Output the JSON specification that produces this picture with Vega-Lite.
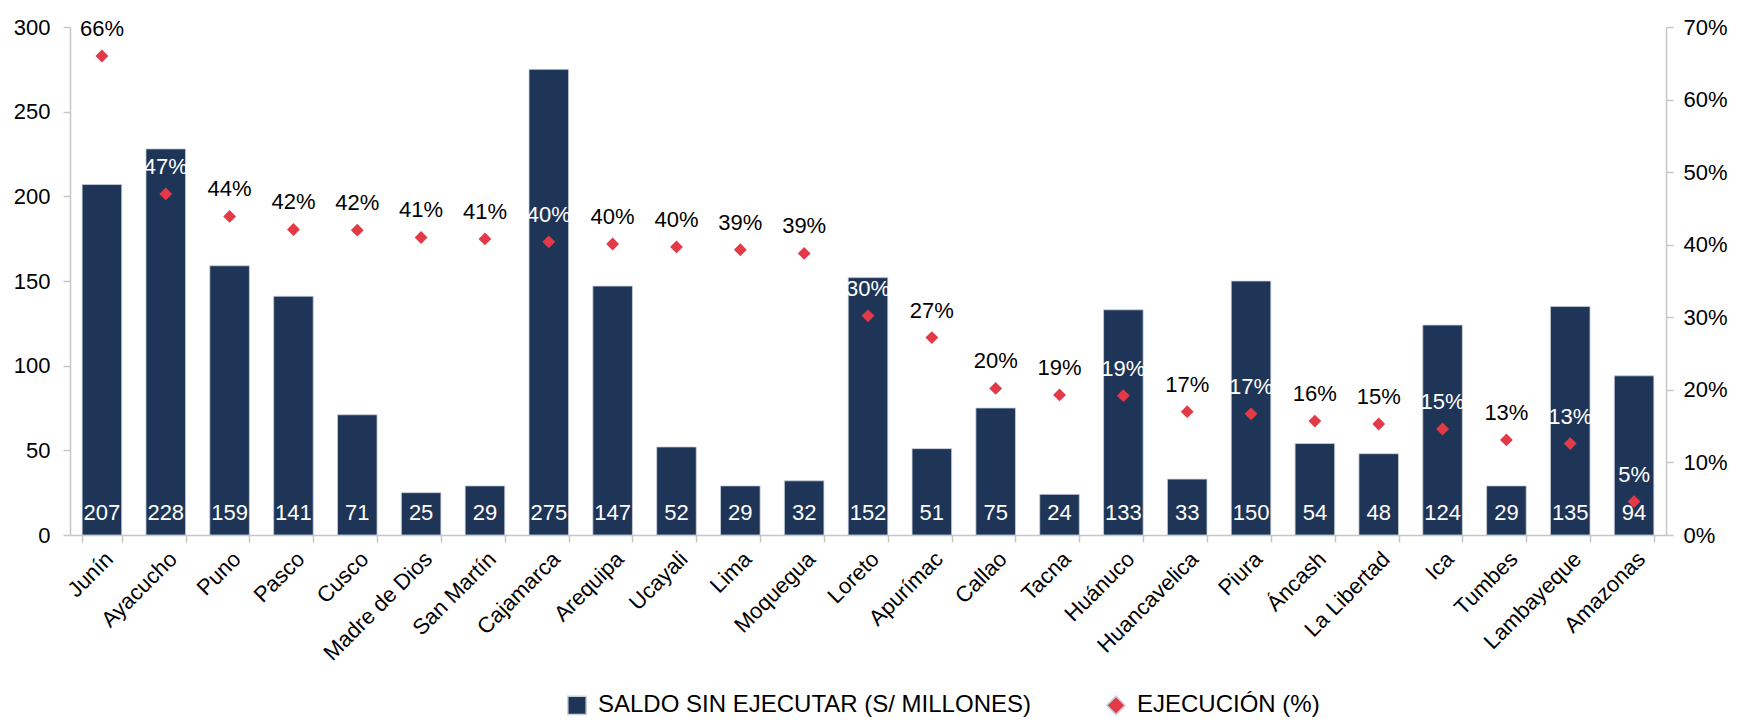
{
  "$schema": "https://vega.github.io/schema/vega-lite/v6.json",
  "width": 1596,
  "height": 508,
  "autosize": {"type": "none"},
  "padding": {"left": 70, "top": 27, "right": 79, "bottom": 189},
  "background": "white",
  "config": {
    "view": {"stroke": null},
    "font": "Liberation Sans",
    "axis": {
      "labelFont": "Liberation Sans",
      "labelFontSize": 22,
      "labelColor": "#000000",
      "domainColor": "#c6c6c6",
      "tickColor": "#c6c6c6",
      "domainWidth": 1.5,
      "tickWidth": 1.5,
      "tickSize": 7,
      "grid": false,
      "title": null
    }
  },
  "data": {
    "values": [
      {"region": "Junín", "saldo": 207, "pct": 0.660},
      {"region": "Ayacucho", "saldo": 228, "pct": 0.470},
      {"region": "Puno", "saldo": 159, "pct": 0.439},
      {"region": "Pasco", "saldo": 141, "pct": 0.421},
      {"region": "Cusco", "saldo": 71, "pct": 0.420},
      {"region": "Madre de Dios", "saldo": 25, "pct": 0.410},
      {"region": "San Martín", "saldo": 29, "pct": 0.408},
      {"region": "Cajamarca", "saldo": 275, "pct": 0.404},
      {"region": "Arequipa", "saldo": 147, "pct": 0.401},
      {"region": "Ucayali", "saldo": 52, "pct": 0.397},
      {"region": "Lima", "saldo": 29, "pct": 0.393},
      {"region": "Moquegua", "saldo": 32, "pct": 0.388},
      {"region": "Loreto", "saldo": 152, "pct": 0.302},
      {"region": "Apurímac", "saldo": 51, "pct": 0.272},
      {"region": "Callao", "saldo": 75, "pct": 0.202},
      {"region": "Tacna", "saldo": 24, "pct": 0.193},
      {"region": "Huánuco", "saldo": 133, "pct": 0.192},
      {"region": "Huancavelica", "saldo": 33, "pct": 0.170},
      {"region": "Piura", "saldo": 150, "pct": 0.167},
      {"region": "Áncash", "saldo": 54, "pct": 0.157},
      {"region": "La Libertad", "saldo": 48, "pct": 0.153},
      {"region": "Ica", "saldo": 124, "pct": 0.146},
      {"region": "Tumbes", "saldo": 29, "pct": 0.131},
      {"region": "Lambayeque", "saldo": 135, "pct": 0.126},
      {"region": "Amazonas", "saldo": 94, "pct": 0.046}
    ]
  },
  "encoding": {
    "x": {
      "field": "region",
      "type": "nominal",
      "sort": null,
      "scale": {"paddingInner": 0.38, "paddingOuter": 0.19},
      "axis": {
        "labelAngle": -45,
        "labelAlign": "right",
        "labelBaseline": "top",
        "labelPadding": 6,
        "tickBand": "extent",
        "labelFontSize": 22
      }
    }
  },
  "layer": [
    {
      "layer": [
        {
          "mark": {"type": "bar", "stroke": "#c9d1dc", "strokeWidth": 0.8},
          "encoding": {
            "y": {
              "field": "saldo",
              "type": "quantitative",
              "scale": {"domain": [0, 300]},
              "axis": {"values": [0, 50, 100, 150, 200, 250, 300], "labelPadding": 13}
            },
            "color": {
              "datum": "SALDO SIN EJECUTAR (S/ MILLONES)",
              "type": "nominal",
              "scale": {
                "domain": ["SALDO SIN EJECUTAR (S/ MILLONES)", "EJECUCIÓN (%)"],
                "range": ["#1f3557", "#e43a47"]
              },
              "legend": {
                "orient": "none",
                "legendX": 495,
                "legendY": 666,
                "padding": 0,
                "direction": "horizontal",
                "title": null,
                "labelFont": "Liberation Sans",
                "labelFontSize": 24,
                "labelLimit": 800,
                "labelColor": "#000000",
                "labelOffset": 9,
                "symbolSize": 340,
                "columnPadding": 72,
                "encode": {
                  "symbols": {
                    "update": {
                      "shape": {"scale": "shape", "field": "value"},
                      "size": {"signal": "datum.value === 'EJECUCIÓN (%)' ? 480 : 340"},
                      "fill": {"scale": "color", "field": "value"},
                      "stroke": {"value": "transparent"},
                      "opacity": {"value": 1}
                    }
                  }
                }
              }
            }
          }
        },
        {
          "mark": {"type": "text", "color": "white", "fontSize": 22, "baseline": "alphabetic", "dy": -15},
          "encoding": {
            "y": {"datum": 0, "type": "quantitative"},
            "text": {"field": "saldo", "type": "quantitative"}
          }
        }
      ]
    },
    {
      "layer": [
        {
          "mark": {"type": "point", "filled": true, "size": 165, "opacity": 1},
          "encoding": {
            "y": {
              "field": "pct",
              "type": "quantitative",
              "scale": {"domain": [0, 0.7]},
              "axis": {"orient": "right", "format": ".0%", "values": [0, 0.1, 0.2, 0.3, 0.4, 0.5, 0.6, 0.7], "labelPadding": 10}
            },
            "color": {"datum": "EJECUCIÓN (%)", "type": "nominal"},
            "shape": {
              "datum": "EJECUCIÓN (%)",
              "type": "nominal",
              "scale": {
                "domain": ["SALDO SIN EJECUTAR (S/ MILLONES)", "EJECUCIÓN (%)"],
                "range": ["square", "diamond"]
              },
              "legend": null
            }
          }
        },
        {
          "mark": {"type": "text", "fontSize": 22, "baseline": "alphabetic", "dy": -20},
          "encoding": {
            "y": {"field": "pct", "type": "quantitative"},
            "text": {"field": "pct", "type": "quantitative", "format": ".0%"},
            "color": {
              "condition": {"test": "datum.saldo / 300 > datum.pct / 0.7", "value": "white"},
              "value": "black"
            }
          }
        }
      ]
    }
  ],
  "resolve": {"scale": {"y": "independent"}}
}
